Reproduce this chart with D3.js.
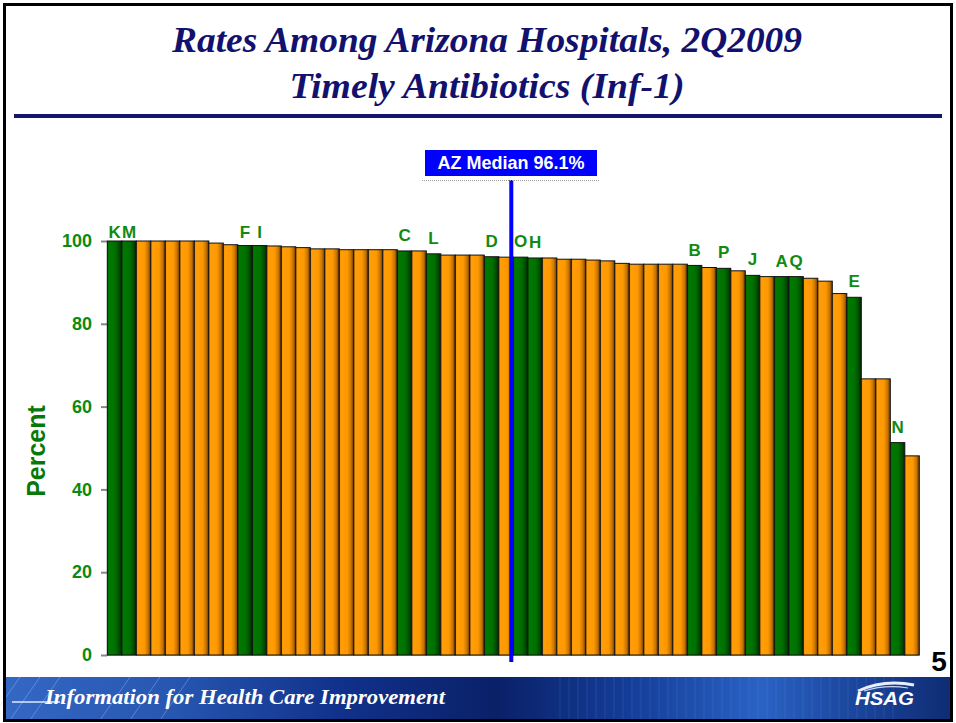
<!DOCTYPE html>
<html><head><meta charset="utf-8">
<script src="https://cdn.jsdelivr.net/npm/d3@7"></script>
<style>body{margin:0;background:#fff}</style>
</head><body>
<svg id="c" width="956" height="723"></svg>
<script>
// ---------- DATA ----------
const values = [100,100,100,100,100,100,100,99.5,99.1,98.9,98.9,98.8,98.6,98.4,
  98.1,98.1,97.9,97.9,97.9,97.9,97.6,97.6,96.9,96.6,96.6,96.6,96.2,96.1,
  96.1,95.9,95.9,95.6,95.6,95.4,95.2,94.6,94.4,94.4,94.4,94.4,94.1,93.6,
  93.4,92.8,91.7,91.4,91.4,91.4,91.0,90.3,87.3,86.4,66.7,66.7,51.3,48.1];
const labels = ["K","M","","","","","","","","F","I","","","",
  "","","","","","","C","","L","","","","D","",
  "O","H","","","","","","","","","","","B","",
  "P","","J","","A","Q","","","","E","","","N",""];
const group = labels.map(l => l ? "highlight" : "other");
const yTicks = [0,20,40,60,80,100];
const medianValue = 96.1;
const medianLabel = "AZ Median 96.1%";
const titleLines = ["Rates Among Arizona Hospitals, 2Q2009","Timely Antibiotics (Inf-1)"];
const yTitle = "Percent";
const footerText = "Information for Health Care Improvement";
const logoText = "HSAG";
const pageNumber = "5";

// ---------- CHART ----------
const svg = d3.select("#c");
const defs = svg.append("defs");
function grad(id, stops){
  const g = defs.append("linearGradient").attr("id", id).attr("x1","0%").attr("x2","100%").attr("y1","0%").attr("y2","0%");
  stops.forEach(s => g.append("stop").attr("offset", s[0]).attr("stop-color", s[1]));
}
grad("gOrange", [[0,"#e88c00"],[0.12,"#ff9d0a"],[0.55,"#ff9900"],[0.8,"#cc7600"],[1,"#623800"]]);
grad("gGreen", [[0,"#005c00"],[0.12,"#007a00"],[0.55,"#007000"],[0.8,"#005000"],[1,"#002400"]]);
grad("gFoot", [[0,"#3468c4"],[0.18,"#2656b0"],[0.36,"#10308a"],[0.52,"#0a2168"],[0.66,"#143d98"],[0.8,"#2a62c4"],[0.88,"#1d4aa3"],[1,"#0f2c74"]]);

svg.append("rect").attr("width",956).attr("height",723).attr("fill","#fff");

// Title
const titleW = [630, 395];
svg.append("g").selectAll("text").data(titleLines).join("text")
  .attr("x", (d,i) => 487 - titleW[i]/2).attr("y", (d,i) => 52 + i*46)
  .attr("font-family","'Liberation Serif','Times New Roman',serif")
  .attr("font-weight","bold").attr("font-style","italic")
  .attr("font-size", 36).attr("fill","#12126e")
  .attr("textLength",(d,i)=>titleW[i]).attr("lengthAdjust","spacingAndGlyphs")
  .text(d => d);
svg.append("rect").attr("x",14).attr("y",114).attr("width",928).attr("height",4).attr("fill","#15156e");

const x = d3.scaleBand().domain(d3.range(values.length)).range([107.3, 919.3]).padding(0);
const y = d3.scaleLinear().domain([0,100]).range([655, 241]);

// Y axis
const yAxis = d3.axisLeft(y).tickValues(yTicks).tickSize(6).tickPadding(9).tickFormat(d3.format("d"));
const ga = svg.append("g").attr("transform","translate(107,0)").call(yAxis);
ga.select(".domain").attr("stroke","#888");
ga.selectAll(".tick line").attr("stroke","#888").attr("stroke-width",2);
ga.selectAll(".tick text").attr("fill","#0d8a0d").attr("font-family","Arial,'Liberation Sans',sans-serif")
  .attr("font-weight","bold").attr("font-size",18);

// x baseline
svg.append("line").attr("x1",107).attr("x2",919.3).attr("y1",y(0)).attr("y2",y(0)).attr("stroke","#888").attr("stroke-width",1.5);

// Y title
svg.append("text").attr("transform","translate(45,451) rotate(-90)")
  .attr("text-anchor","middle").attr("font-family","Arial,'Liberation Sans',sans-serif")
  .attr("font-weight","bold").attr("font-size",25).attr("fill","#087808").text(yTitle);

// Bars
svg.append("g").selectAll("rect").data(values).join("rect")
  .attr("x", (d,i) => x(i)).attr("width", x.bandwidth())
  .attr("y", d => y(d)).attr("height", d => y(0) - y(d))
  .attr("fill", (d,i) => group[i] === "highlight" ? "url(#gGreen)" : "url(#gOrange)")
  .attr("stroke","#111").attr("stroke-width",1);

// Bar labels
svg.append("g").selectAll("text").data(values.map((v,i)=>({v,i,l:labels[i]})).filter(d=>d.l)).join("text")
  .attr("x", d => x(d.i) + x.bandwidth()/2)
  .attr("y", d => Math.max(y(d.v) - 16, y(100) - 9))
  .attr("dy","0.36em")
  .attr("text-anchor","middle").attr("font-family","Arial,'Liberation Sans',sans-serif")
  .attr("font-weight","bold").attr("font-size",17).attr("fill","#128a12")
  .text(d => d.l);

// Median marker
const mx = x(28) - 2;
svg.append("line").attr("x1",mx).attr("x2",mx).attr("y1",180).attr("y2",662)
  .attr("stroke","#0000ff").attr("stroke-width",4);
svg.append("line").attr("x1",422).attr("x2",600).attr("y1",180.5).attr("y2",180.5)
  .attr("stroke","#999").attr("stroke-width",1).attr("stroke-dasharray","1,1");
svg.append("rect").attr("x",425).attr("y",150).attr("width",172).attr("height",26).attr("fill","#0000ff");
svg.append("text").attr("x",511).attr("y",163).attr("dy","0.36em").attr("text-anchor","middle")
  .attr("font-family","Arial,'Liberation Sans',sans-serif").attr("font-weight","bold")
  .attr("font-size",18).attr("fill","#fff").text(medianLabel);

// Page number
svg.append("text").attr("x",939).attr("y",671).attr("text-anchor","middle")
  .attr("font-family","Arial,'Liberation Sans',sans-serif").attr("font-weight","bold")
  .attr("font-size",28).attr("fill","#000").text(pageNumber);

// Footer banner
const fy = 677, fh = 43;
svg.append("rect").attr("x",5).attr("y",fy).attr("width",946).attr("height",fh).attr("fill","url(#gFoot)");
const stripes = d3.range(560, 900, 9);
svg.append("g").selectAll("line").data(stripes).join("line")
  .attr("x1",d=>d).attr("x2",d=>d).attr("y1",fy).attr("y2",fy+fh)
  .attr("stroke","#6f9be8").attr("stroke-opacity",0.18).attr("stroke-width",1);
const diag = [20,40,60,130,160,190];
svg.append("g").selectAll("line").data(diag).join("line")
  .attr("x1",d=>d).attr("x2",d=>d-30).attr("y1",fy).attr("y2",fy+fh)
  .attr("stroke","#b9d0ff").attr("stroke-opacity",0.35).attr("stroke-width",1);
svg.append("line").attr("x1",12).attr("x2",60).attr("y1",fy+25).attr("y2",fy+25).attr("stroke","#dfe9ff").attr("stroke-width",1.5);
svg.append("text").attr("x",45).attr("y",704)
  .attr("font-family","'Liberation Serif','Times New Roman',serif").attr("font-style","italic").attr("font-weight","bold")
  .attr("font-size",20).attr("fill","#fff")
  .attr("textLength",400).attr("lengthAdjust","spacingAndGlyphs").text(footerText);
// logo
svg.append("path").attr("d",`M858,${fy+14} Q884,${fy+2} 914,${fy+8}`).attr("fill","none").attr("stroke","#e8eefc").attr("stroke-width",3);
svg.append("path").attr("d",`M864,${fy+14} Q886,${fy+7} 908,${fy+11}`).attr("fill","none").attr("stroke","#c9d6f4").attr("stroke-width",1.2);
svg.append("text").attr("x",855).attr("y",705)
  .attr("font-family","Arial,'Liberation Sans',sans-serif").attr("font-weight","bold").attr("font-style","italic")
  .attr("font-size",18).attr("fill","#fff")
  .attr("textLength",59).attr("lengthAdjust","spacingAndGlyphs").text(logoText);

// slide frame
svg.append("rect").attr("x",4.5).attr("y",4.5).attr("width",947).attr("height",716).attr("fill","none")
  .attr("stroke","#000").attr("stroke-width",3);
</script>
</body></html>
